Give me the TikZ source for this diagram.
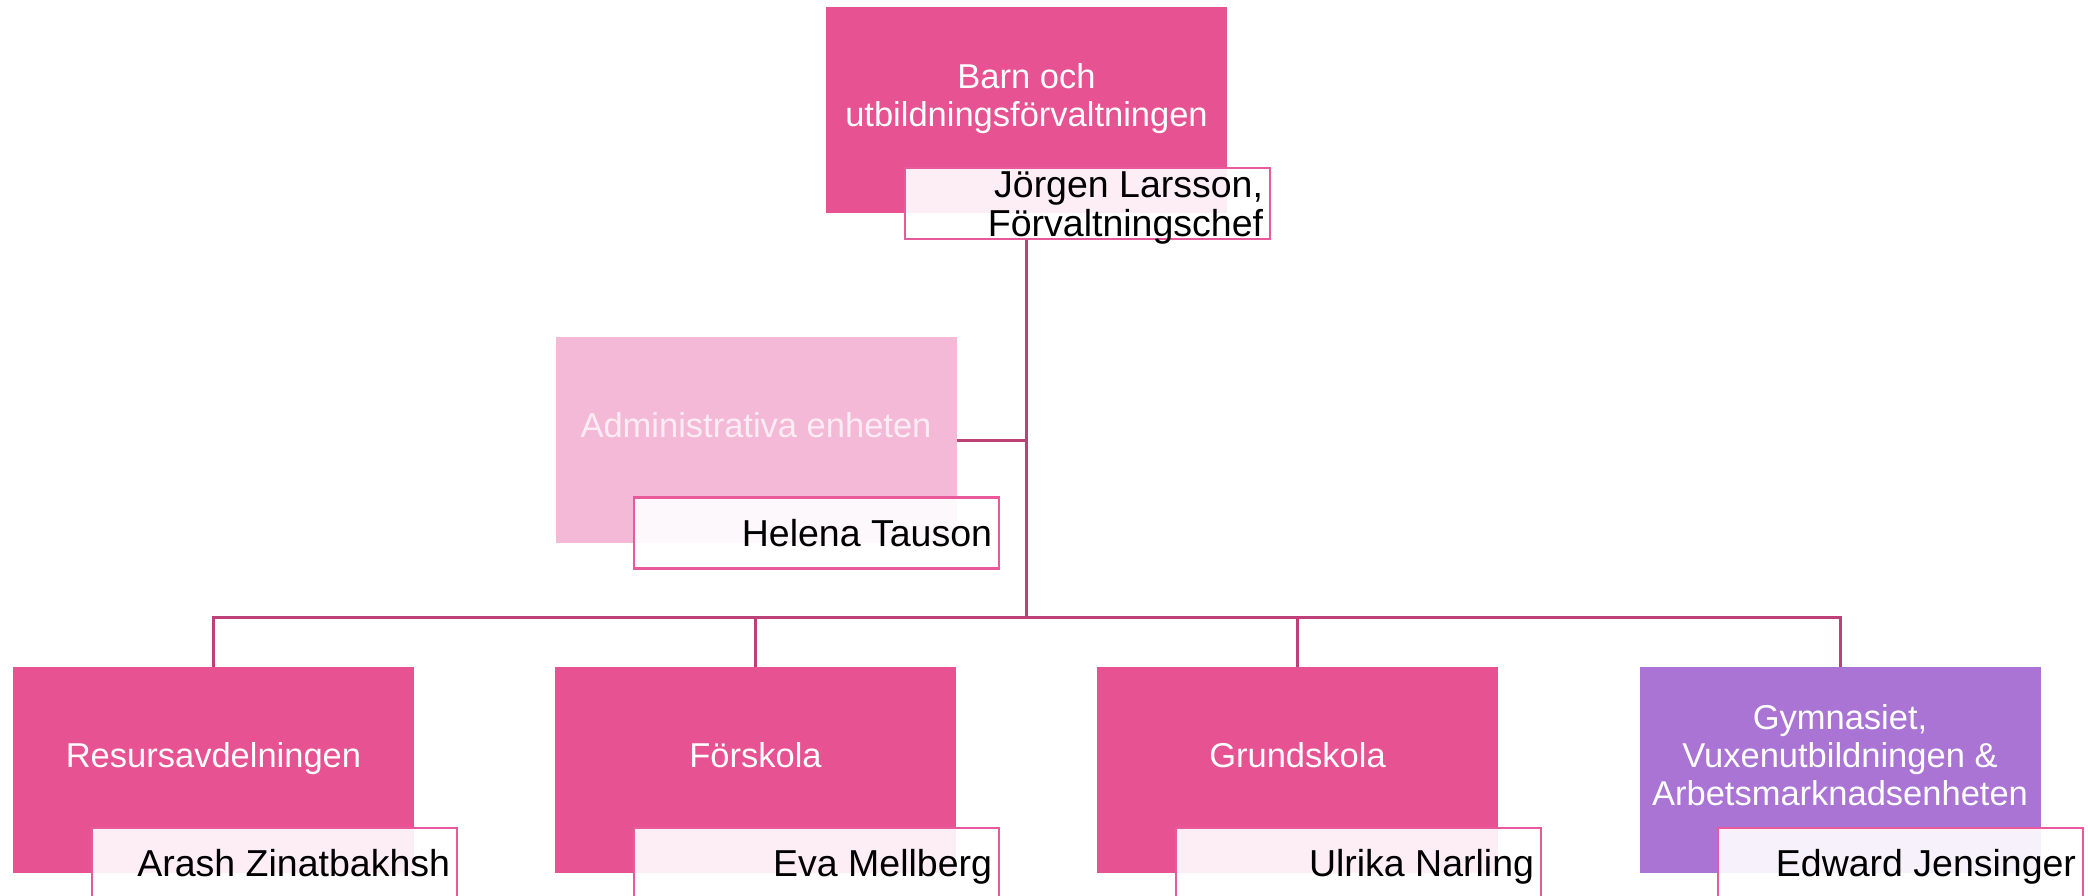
\documentclass[tikz,border=0pt]{standalone}
\usepackage{fontspec}
\setmainfont{Liberation Sans}
\definecolor{mainpink}{RGB}{230,82,146}
\definecolor{purp}{RGB}{169,116,212}
\definecolor{adminpink}{RGB}{244,185,215}
\definecolor{linecol}{RGB}{190,64,120}
\definecolor{nameborder}{RGB}{232,90,156}
\definecolor{admintext}{RGB}{252,236,244}
\tikzset{
  unit/.style={rectangle, inner sep=0pt, minimum width=401pt, minimum height=206pt, fill=mainpink, draw=none},
  title/.style={text=white, font=\fontsize{34.5}{38}\selectfont, align=center, inner sep=0pt},
  namebox/.style={rectangle, inner sep=0pt, minimum width=365pt, minimum height=71pt, draw=nameborder, line width=2.5pt, fill=white, fill opacity=0.9, draw opacity=1},
  nametext/.style={font=\fontsize{37.5}{39}\selectfont, align=right, text=black, inner sep=0pt, xshift=-8pt},
  conn/.style={draw=linecol, line width=3pt, line join=miter},
}
\begin{document}
\begin{tikzpicture}[x=1pt, y=-1pt]
\useasboundingbox (0,0) rectangle (2088,895);
\clip (0,0) rectangle (2088,895);
\fill[white] (0,0) rectangle (2088,895);

% boxes
\node[unit] (top) at (1026.5,110) {};
\node[unit, fill=adminpink] (admin) at (756,440) {};
\node[unit] (res) at (213.5,770) {};
\node[unit] (fors) at (755.5,770) {};
\node[unit] (grund) at (1297.5,770) {};
\node[unit, fill=purp] (gym) at (1840,770) {};

% titles
\node[title, yshift=11pt] (toptitle) at (top.center) {Barn och\\utbildningsförvaltningen};
\node[title, anchor=base, yshift=3pt, text=admintext] (admintitle) at (admin.center) {Administrativa enheten};
\node[title, anchor=base, yshift=3pt] (restitle) at (res.center) {Resursavdelningen};
\node[title, anchor=base, yshift=3pt] (forstitle) at (fors.center) {Förskola};
\node[title, anchor=base, yshift=3pt] (grundtitle) at (grund.center) {Grundskola};
\node[title, yshift=15pt] (gymtitle) at (gym.center) {Gymnasiet,\\Vuxenutbildningen \&\\Arbetsmarknadsenheten};

% name boxes
\node[namebox] (topname) at (1087.5,203.5) {};
\node[namebox] (adminname) at (816.5,533) {};
\node[namebox] (resname) at (274.5,863.5) {};
\node[namebox] (forsname) at (816.5,863.5) {};
\node[namebox] (grundname) at (1358.5,863.5) {};
\node[namebox] (gymname) at (1900.5,863.5) {};

% connectors
\coordinate (bus) at (1026.5,617);
\draw[conn] (topname.south -| top.center) -- (bus);
\draw[conn] (admin.east) -- (admin.east -| top.center);
\draw[conn] (res.north) |- (gym.north |- bus) -- (gym.north);
\draw[conn] (fors.north) -- (fors.north |- bus);
\draw[conn] (grund.north) -- (grund.north |- bus);

% names
\node[nametext, anchor=east, yshift=-4pt] (topn) at (topname.east) {Jörgen Larsson,\\Förvaltningschef};
\node[nametext, anchor=base east, yshift=-13pt] (adminn) at (adminname.east) {Helena Tauson};
\node[nametext, anchor=base east, yshift=-13pt] (resn) at (resname.east) {Arash Zinatbakhsh};
\node[nametext, anchor=base east, yshift=-13pt] (forsn) at (forsname.east) {Eva Mellberg};
\node[nametext, anchor=base east, yshift=-13pt] (grundn) at (grundname.east) {Ulrika Narling};
\node[nametext, anchor=base east, yshift=-13pt] (gymn) at (gymname.east) {Edward Jensinger};
\end{tikzpicture}
\end{document}
